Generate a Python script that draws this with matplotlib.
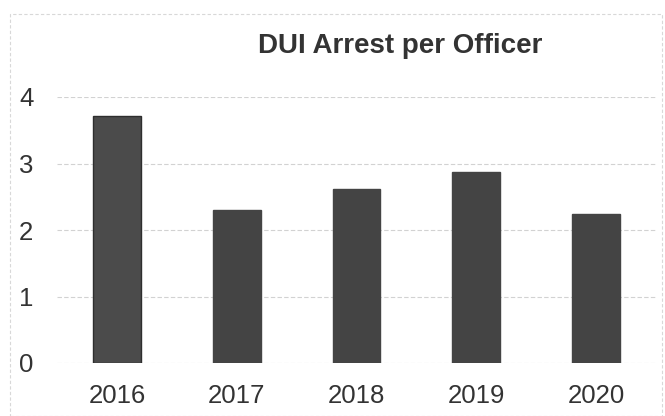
import matplotlib
matplotlib.use("Agg")
import matplotlib.pyplot as plt
from matplotlib.patches import Rectangle

years = ["2016", "2017", "2018", "2019", "2020"]
arrests_per_officer = [3.72, 2.30, 2.61, 2.87, 2.24]
y_ticks = [0, 1, 2, 3, 4]

plt.rcParams["font.family"] = ["Liberation Sans", "DejaVu Sans"]

W, H = 665, 416
fig = plt.figure(figsize=(W / 100, H / 100), dpi=100)
fig.patch.set_facecolor("white")

# faint chart-area border
fig.patches.append(Rectangle((10 / W, 0.0), (662 - 10) / W, 1 - 14 / H,
                             transform=fig.transFigure, fill=False,
                             edgecolor="#d8d8d8", linewidth=0.8,
                             linestyle=(0, (3, 2))))

ax = fig.add_axes([57 / W, 1 - 363 / H, (656 - 57) / W, (363 - 97) / H])

colors = ["#4b4b4b"] + ["#444444"] * 4
edges = ["#2e2e2e"] + ["#444444"] * 4
x = range(len(years))
ax.bar(x, arrests_per_officer, width=0.4, color=colors, edgecolor=edges,
       linewidth=1.0, zorder=3)

ax.set_xlim(-0.5, len(years) - 0.5)
ax.set_ylim(0, 4)
ax.set_yticks(y_ticks)
ax.set_xticks(list(x))
ax.set_xticklabels(years)

ax.grid(axis="y", color="#d2d2d2", linewidth=0.8, linestyle=(0, (4, 2)), zorder=0)
for s in ax.spines.values():
    s.set_visible(False)
ax.tick_params(axis="both", length=0, labelsize=18.5, colors="#333333")
ax.tick_params(axis="x", pad=15)
ax.tick_params(axis="y", pad=17)

fig.text(400 / W, 1 - 46 / H, "DUI Arrest per Officer", ha="center", va="center",
         fontsize=20, fontweight="bold", color="#333333")

fig.savefig("out.png", dpi=100, facecolor="white")
